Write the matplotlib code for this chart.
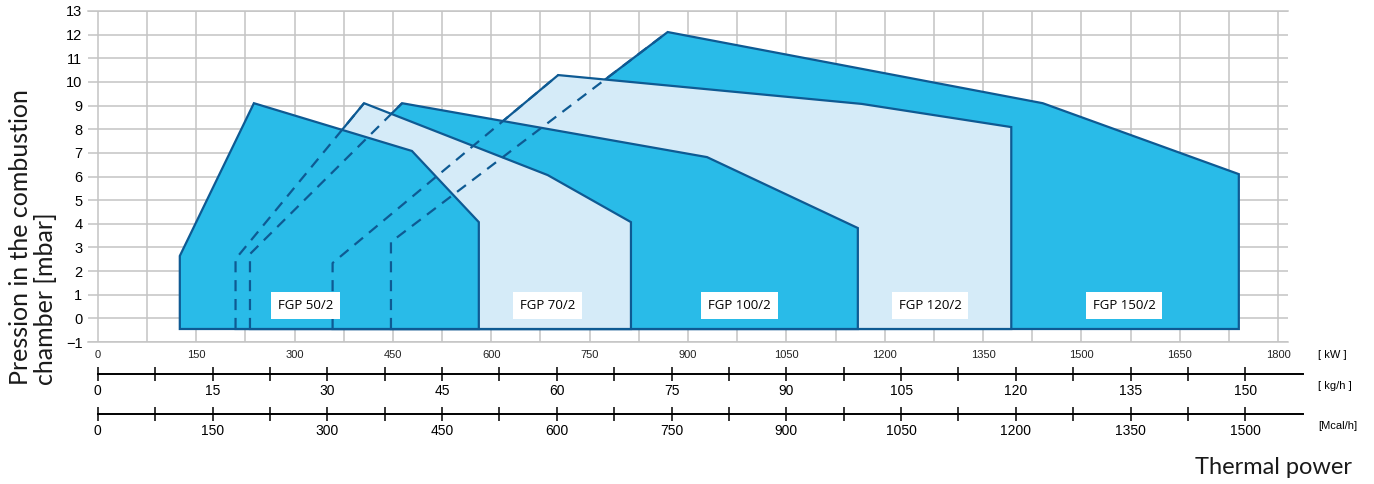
import numpy as np
import matplotlib.pyplot as plt
from matplotlib.ticker import MultipleLocator, FixedLocator

# Campi di lavoro dei bruciatori (kW, mbar)
models = ['FGP 50/2', 'FGP 70/2', 'FGP 100/2', 'FGP 120/2', 'FGP 150/2']
fgp50_x = [125, 125, 238, 479, 581, 581]
fgp50_y = [-0.45, 2.64, 9.1, 7.08, 4.07, -0.45]
fgp70_x = [210, 210, 406, 686, 813, 813]
fgp70_y = [-0.45, 2.51, 9.1, 6.06, 4.07, -0.45]
fgp100_x = [232, 232, 464, 929, 1159, 1159]
fgp100_y = [-0.45, 2.72, 9.1, 6.82, 3.82, -0.45]
fgp120_x = [358, 358, 702, 1165, 1393, 1393]
fgp120_y = [-0.45, 2.34, 10.29, 9.07, 8.09, -0.45]
fgp150_x = [447, 447, 869, 1441, 1740, 1740]
fgp150_y = [-0.45, 3.23, 12.11, 9.1, 6.1, -0.45]

label_x = [317, 686, 979, 1269, 1565]
label_y = 0.56

kw_ticks = list(range(0, 1801, 150))
kgh_ticks = list(range(0, 151, 15))
mcal_ticks = list(range(0, 1501, 150))

dark = '#29BBE8'
light = '#D5EBF8'
edge = '#0E5A93'
grid_c = '#C4C4C4'

W, H = 1374, 484
fig = plt.figure(figsize=(W / 100, H / 100), dpi=100)

ax = fig.add_axes([88 / W, 1 - 342 / H, 1200 / W, 331 / H])
ax.set_xlim(-15, 1815)
ax.set_ylim(-1, 13)

# disegno dal fondo verso il davanti
shapes = [
    (fgp150_x, fgp150_y, dark),
    (fgp120_x, fgp120_y, light),
    (fgp100_x, fgp100_y, dark),
    (fgp70_x, fgp70_y, light),
    (fgp50_x, fgp50_y, dark),
]
for i, (xs, ys, col) in enumerate(shapes):
    ax.fill(xs, ys, facecolor=col, edgecolor='none', zorder=3 + i)

# contorni sopra la griglia
for i, (xs, ys, col) in enumerate(shapes):
    ax.fill(xs, ys, facecolor='none', edgecolor=edge, linewidth=1.6, zorder=3.5 + i)

# bordi sinistri nascosti -> tratteggiati
for xs, ys, col in shapes[:-1]:
    ax.plot(xs[:3], ys[:3], color=edge, linewidth=1.6, linestyle=(0, (5, 3.5)), zorder=9)

for name, lx in zip(models, label_x):
    ax.text(lx, label_y, name, ha='center', va='center', fontsize=9.5,
            family=['Open Sans', 'DejaVu Sans'], zorder=10,
            bbox=dict(facecolor='white', edgecolor='none', pad=5))

ax.xaxis.set_major_locator(FixedLocator(kw_ticks))
ax.xaxis.set_minor_locator(MultipleLocator(75))
ax.set_yticks(range(-1, 14))
ax.grid(which='both', axis='x', color=grid_c, linewidth=1.1)
ax.grid(which='major', axis='y', color=grid_c, linewidth=1.1)
ax.set_axisbelow(False)
for ln in ax.get_xgridlines() + ax.get_ygridlines():
    ln.set_zorder(3.2)
for ln in ax.xaxis.get_minor_ticks():
    ln.gridline.set_zorder(3.2)
for s in ['left', 'right']:
    ax.spines[s].set_visible(False)
for s in ['top', 'bottom']:
    ax.spines[s].set_color(grid_c)
    ax.spines[s].set_linewidth(1.1)
ax.tick_params(axis='both', which='both', length=0)
ax.tick_params(axis='x', pad=6, labelsize=8, labelcolor='#222222')
ax.tick_params(axis='y', pad=4, labelsize=10.5)
for t in ax.get_xticklabels() + ax.get_yticklabels():
    t.set_family(['Liberation Sans', 'DejaVu Sans'])

# assi secondari (kg/h, Mcal/h): 150 kg/h = 1500 Mcal/h = 1750 kW
def scale_axis(ypix, ticks, step, factor):
    a = fig.add_axes([88 / W, 1 - ypix / H, 1200 / W, 0.0001])
    a.set_xlim(-15 * factor, 1815 * factor)
    for s in ['left', 'right', 'top']:
        a.spines[s].set_visible(False)
    a.spines['bottom'].set_bounds(0, ticks[-1] + step / 2)
    a.spines['bottom'].set_linewidth(1.4)
    a.set_yticks([])
    a.xaxis.set_major_locator(FixedLocator(ticks))
    a.xaxis.set_minor_locator(FixedLocator([t + step / 2 for t in ticks]))
    a.tick_params(axis='x', which='both', direction='inout', length=10, width=1.1, pad=2,
                  labelsize=10)
    for t in a.get_xticklabels():
        t.set_family(['Liberation Sans', 'DejaVu Sans'])
    a.patch.set_visible(False)
    return a

scale_axis(374, kgh_ticks, 15, 150 / 1750)
scale_axis(414, mcal_ticks, 150, 1500 / 1750)

fig.text(1318 / W, 1 - 355 / H, '[ kW ]', fontsize=8, va='center',
         family=['Liberation Sans', 'DejaVu Sans'])
fig.text(1318 / W, 1 - 386 / H, '[ kg/h ]', fontsize=8, va='center',
         family=['Liberation Sans', 'DejaVu Sans'])
fig.text(1318 / W, 1 - 426 / H, '[Mcal/h]', fontsize=8, va='center',
         family=['Liberation Sans', 'DejaVu Sans'])

fig.text(1352 / W, 1 - 468 / H, 'Thermal power', fontsize=17, ha='right', va='center',
         family=['Lato', 'DejaVu Sans'], color='#1a1a1a')
fig.text(33 / W, 1 - 385 / H, 'Pression in the combustion\nchamber [mbar]', fontsize=18,
         rotation=90, ha='center', va='bottom', multialignment='left', linespacing=1.15,
         family=['Lato', 'DejaVu Sans'], color='#1a1a1a')

fig.savefig('out.png', dpi=100)
